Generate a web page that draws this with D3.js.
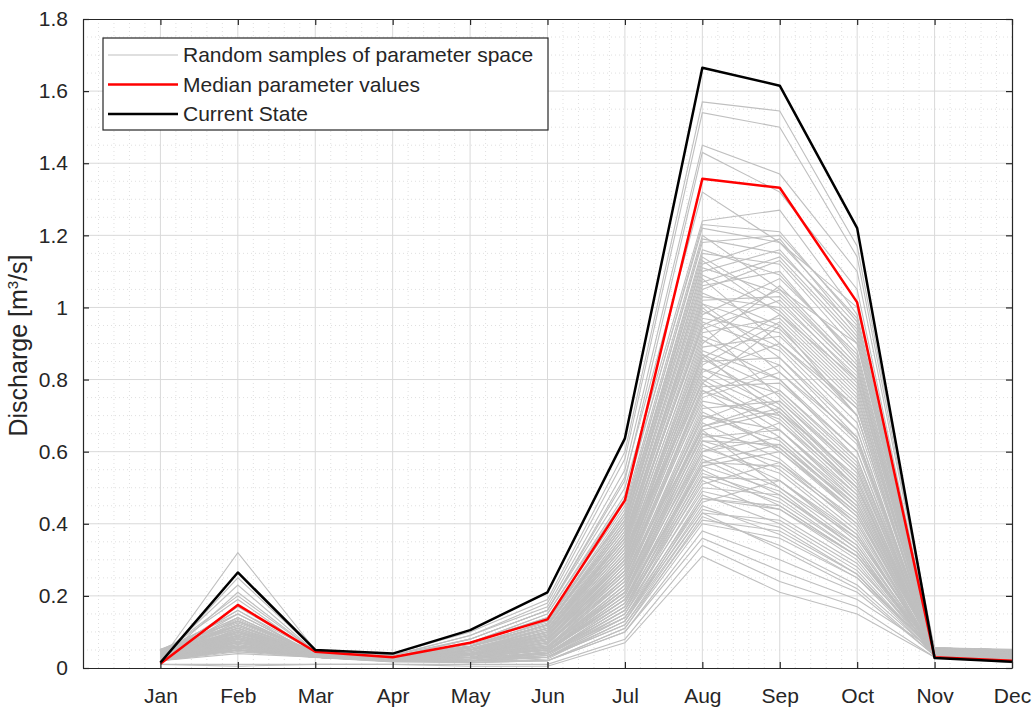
<!DOCTYPE html>
<html><head><meta charset="utf-8">
<script src="https://d3js.org/d3.v7.min.js"></script>
<style>
html,body{margin:0;padding:0;background:#fff;}
svg{display:block;font-family:"Liberation Sans",Arial,sans-serif;}
</style></head>
<body><svg id="c" width="1036" height="709"></svg>
<script>
const months = ["Jan","Feb","Mar","Apr","May","Jun","Jul","Aug","Sep","Oct","Nov","Dec"];
const yTicks = [0,0.2,0.4,0.6,0.8,1,1.2,1.4,1.6,1.8];
const medianValues = [0.012,0.175,0.045,0.03,0.07,0.135,0.465,1.357,1.332,1.014,0.03,0.02];
const currentState = [0.015,0.265,0.05,0.04,0.105,0.21,0.637,1.665,1.615,1.22,0.028,0.017];
const randomSamples = [
[0.02,0.32,0.05,0.04,0.10,0.19,0.60,1.57,1.545,1.17,0.05,0.04],
[0.02,0.25,0.05,0.035,0.09,0.18,0.58,1.54,1.50,1.14,0.045,0.035],
[0.03,0.23,0.045,0.035,0.09,0.17,0.55,1.45,1.37,1.10,0.05,0.04],
[0.02,0.21,0.045,0.03,0.08,0.16,0.52,1.43,1.32,1.05,0.04,0.03],
[0.04,0.19,0.04,0.03,0.08,0.16,0.50,1.24,1.27,0.98,0.05,0.04],
[0.03,0.17,0.045,0.03,0.07,0.15,0.48,1.22,1.18,0.95,0.04,0.03],
[0.05,0.15,0.04,0.03,0.07,0.14,0.45,1.20,1.05,0.90,0.05,0.05],
[0.02,0.14,0.04,0.025,0.06,0.13,0.44,1.18,1.20,0.97,0.04,0.03],
[0.04,0.16,0.035,0.03,0.07,0.14,0.42,1.15,1.12,0.88,0.05,0.04],
[0.03,0.12,0.04,0.025,0.06,0.12,0.40,1.13,0.98,0.80,0.045,0.035],
[0.05,0.13,0.045,0.03,0.06,0.12,0.41,1.10,1.16,0.92,0.05,0.05],
[0.02,0.11,0.035,0.02,0.05,0.11,0.38,1.08,0.90,0.72,0.04,0.03],
[0.04,0.14,0.04,0.03,0.06,0.12,0.39,1.06,1.10,0.85,0.05,0.04],
[0.03,0.10,0.03,0.02,0.05,0.10,0.36,1.04,0.95,0.70,0.04,0.03],
[0.05,0.12,0.04,0.025,0.05,0.11,0.37,1.02,1.03,0.82,0.055,0.05],
[0.02,0.09,0.035,0.02,0.05,0.10,0.35,1.00,0.82,0.62,0.04,0.02],
[0.04,0.11,0.04,0.03,0.06,0.11,0.36,0.98,1.08,0.87,0.05,0.04],
[0.03,0.10,0.03,0.02,0.04,0.09,0.33,0.96,0.88,0.66,0.04,0.03],
[0.05,0.13,0.045,0.03,0.05,0.10,0.34,0.95,0.75,0.55,0.05,0.05],
[0.02,0.08,0.03,0.02,0.04,0.09,0.32,0.93,0.97,0.76,0.035,0.025],
[0.04,0.10,0.04,0.025,0.05,0.09,0.31,0.91,0.80,0.58,0.05,0.04],
[0.03,0.09,0.035,0.02,0.04,0.08,0.30,0.89,0.92,0.72,0.04,0.03],
[0.05,0.11,0.04,0.03,0.05,0.09,0.30,0.87,0.70,0.50,0.055,0.05],
[0.02,0.08,0.03,0.02,0.04,0.08,0.29,0.85,0.86,0.66,0.035,0.025],
[0.04,0.09,0.04,0.025,0.04,0.08,0.28,0.83,0.76,0.56,0.05,0.04],
[0.03,0.10,0.035,0.02,0.04,0.07,0.27,0.82,0.90,0.70,0.04,0.03],
[0.05,0.08,0.04,0.03,0.05,0.08,0.27,0.80,0.68,0.48,0.05,0.05],
[0.02,0.07,0.03,0.02,0.03,0.07,0.26,0.78,0.79,0.60,0.035,0.02],
[0.04,0.09,0.04,0.025,0.04,0.07,0.25,0.77,0.64,0.45,0.05,0.04],
[0.03,0.07,0.035,0.02,0.03,0.06,0.25,0.75,0.82,0.64,0.04,0.03],
[0.05,0.08,0.04,0.03,0.04,0.07,0.24,0.73,0.60,0.42,0.055,0.05],
[0.02,0.06,0.03,0.02,0.03,0.06,0.23,0.72,0.74,0.55,0.035,0.025],
[0.04,0.08,0.04,0.025,0.04,0.06,0.22,0.70,0.66,0.47,0.05,0.04],
[0.03,0.07,0.035,0.02,0.03,0.05,0.22,0.68,0.58,0.40,0.04,0.03],
[0.05,0.09,0.04,0.03,0.04,0.06,0.21,0.67,0.72,0.52,0.05,0.05],
[0.02,0.06,0.03,0.02,0.03,0.05,0.20,0.65,0.55,0.38,0.035,0.02],
[0.04,0.07,0.04,0.025,0.03,0.05,0.20,0.63,0.62,0.44,0.05,0.04],
[0.03,0.06,0.035,0.02,0.03,0.05,0.19,0.62,0.52,0.35,0.04,0.03],
[0.05,0.08,0.04,0.03,0.04,0.05,0.18,0.60,0.64,0.46,0.055,0.05],
[0.02,0.05,0.03,0.02,0.02,0.04,0.18,0.58,0.48,0.33,0.035,0.025],
[0.04,0.07,0.04,0.025,0.03,0.04,0.17,0.57,0.56,0.40,0.05,0.04],
[0.03,0.06,0.035,0.02,0.02,0.04,0.16,0.55,0.45,0.31,0.04,0.03],
[0.05,0.07,0.04,0.03,0.03,0.04,0.16,0.53,0.52,0.37,0.05,0.05],
[0.02,0.05,0.03,0.02,0.02,0.03,0.15,0.52,0.42,0.29,0.035,0.02],
[0.04,0.06,0.04,0.025,0.03,0.04,0.15,0.50,0.48,0.34,0.05,0.04],
[0.03,0.05,0.035,0.02,0.02,0.03,0.14,0.48,0.40,0.27,0.04,0.03],
[0.05,0.07,0.04,0.03,0.03,0.03,0.13,0.47,0.44,0.31,0.055,0.05],
[0.02,0.05,0.03,0.02,0.02,0.03,0.13,0.45,0.37,0.25,0.035,0.025],
[0.04,0.06,0.04,0.025,0.02,0.03,0.12,0.43,0.41,0.28,0.05,0.04],
[0.03,0.05,0.035,0.02,0.02,0.02,0.11,0.42,0.34,0.23,0.04,0.03],
[0.05,0.06,0.04,0.03,0.02,0.02,0.11,0.40,0.36,0.25,0.05,0.05],
[0.02,0.04,0.03,0.02,0.015,0.02,0.10,0.38,0.30,0.21,0.035,0.02],
[0.04,0.05,0.04,0.025,0.015,0.02,0.10,0.36,0.27,0.19,0.05,0.04],
[0.01,0.01,0.01,0.01,0.01,0.01,0.08,0.34,0.24,0.17,0.03,0.02],
[0.01,0.005,0.01,0.01,0.005,0.005,0.07,0.31,0.21,0.15,0.03,0.015],
[0.03,0.15,0.04,0.03,0.06,0.13,0.43,1.12,1.19,0.93,0.045,0.04],
[0.04,0.12,0.04,0.025,0.05,0.10,0.35,0.94,1.02,0.80,0.05,0.045],
[0.03,0.09,0.035,0.02,0.04,0.08,0.28,0.86,0.73,0.52,0.04,0.03],
[0.05,0.10,0.045,0.03,0.05,0.09,0.33,0.79,0.95,0.74,0.055,0.05],
[0.02,0.07,0.03,0.02,0.03,0.06,0.24,0.69,0.77,0.58,0.035,0.025],
[0.04,0.08,0.04,0.025,0.04,0.07,0.26,0.66,0.50,0.36,0.05,0.04],
[0.03,0.06,0.035,0.02,0.03,0.05,0.21,0.60,0.68,0.50,0.04,0.03],
[0.05,0.07,0.04,0.03,0.03,0.05,0.19,0.56,0.60,0.43,0.05,0.05],
[0.02,0.05,0.03,0.02,0.02,0.04,0.17,0.51,0.57,0.41,0.035,0.02],
[0.04,0.06,0.04,0.025,0.03,0.04,0.14,0.46,0.52,0.36,0.05,0.04],
[0.03,0.16,0.045,0.03,0.07,0.15,0.47,1.23,1.21,0.96,0.045,0.035],
[0.04,0.20,0.045,0.035,0.08,0.16,0.53,1.32,1.18,1.00,0.05,0.04],
[0.02,0.13,0.04,0.025,0.06,0.12,0.40,1.09,0.99,0.78,0.04,0.03],
[0.05,0.11,0.04,0.03,0.05,0.10,0.37,1.01,0.86,0.64,0.055,0.05],
[0.03,0.09,0.035,0.02,0.04,0.08,0.31,0.90,1.06,0.84,0.04,0.03],
[0.035,0.085,0.038,0.022,0.035,0.065,0.27,0.74,0.70,0.50,0.045,0.035],
[0.045,0.095,0.042,0.028,0.045,0.085,0.32,0.88,0.80,0.60,0.05,0.045],
[0.025,0.075,0.032,0.018,0.03,0.055,0.23,0.64,0.66,0.48,0.038,0.028],
[0.038,0.105,0.04,0.026,0.05,0.095,0.34,0.97,0.93,0.70,0.048,0.04],
[0.028,0.065,0.033,0.02,0.025,0.045,0.19,0.59,0.50,0.34,0.04,0.03],
[0.048,0.115,0.044,0.03,0.055,0.105,0.38,1.05,1.13,0.90,0.052,0.048],
[0.022,0.055,0.03,0.018,0.02,0.035,0.16,0.49,0.44,0.30,0.036,0.024],
[0.042,0.125,0.043,0.028,0.06,0.115,0.40,1.11,1.04,0.83,0.05,0.042],
[0.032,0.075,0.036,0.022,0.035,0.06,0.25,0.71,0.61,0.42,0.042,0.032],
[0.052,0.095,0.045,0.03,0.045,0.08,0.30,0.84,0.96,0.75,0.056,0.05],
[0.026,0.06,0.032,0.02,0.025,0.04,0.18,0.54,0.47,0.32,0.038,0.026],
[0.036,0.135,0.04,0.027,0.06,0.12,0.42,1.16,1.09,0.86,0.046,0.036],
[0.046,0.085,0.042,0.028,0.04,0.075,0.29,0.81,0.71,0.50,0.05,0.046],
[0.03,0.07,0.034,0.021,0.03,0.055,0.22,0.66,0.71,0.53,0.04,0.03],
[0.04,0.105,0.04,0.026,0.05,0.095,0.35,0.99,0.89,0.68,0.048,0.04],
[0.024,0.05,0.03,0.018,0.018,0.03,0.14,0.44,0.39,0.26,0.036,0.024],
[0.05,0.115,0.045,0.03,0.055,0.1,0.37,1.03,1.00,0.79,0.054,0.05],
[0.034,0.08,0.037,0.023,0.035,0.065,0.26,0.76,0.84,0.63,0.044,0.034],
[0.044,0.09,0.041,0.027,0.04,0.07,0.28,0.79,0.66,0.46,0.05,0.044],
[0.028,0.06,0.033,0.02,0.025,0.045,0.20,0.61,0.54,0.37,0.04,0.028],
[0.038,0.12,0.04,0.026,0.055,0.11,0.39,1.07,1.14,0.91,0.046,0.038],
[0.048,0.075,0.044,0.029,0.035,0.06,0.24,0.70,0.63,0.44,0.052,0.048],
[0.022,0.055,0.03,0.018,0.02,0.04,0.17,0.56,0.49,0.33,0.036,0.022],
[0.042,0.1,0.042,0.027,0.045,0.09,0.33,0.92,0.84,0.63,0.05,0.042],
[0.032,0.065,0.035,0.021,0.03,0.05,0.21,0.63,0.57,0.39,0.042,0.032],
[0.052,0.13,0.046,0.031,0.06,0.12,0.41,1.14,1.01,0.81,0.056,0.052],
[0.026,0.05,0.031,0.019,0.02,0.035,0.15,0.47,0.45,0.31,0.038,0.026],
[0.036,0.095,0.038,0.024,0.045,0.085,0.31,0.86,0.98,0.77,0.044,0.036],
[0.046,0.07,0.043,0.028,0.03,0.055,0.23,0.67,0.74,0.54,0.05,0.046],
[0.03,0.085,0.034,0.021,0.04,0.075,0.29,0.83,0.72,0.51,0.04,0.03],
[0.04,0.055,0.039,0.025,0.025,0.04,0.17,0.53,0.46,0.32,0.048,0.04],
[0.05,0.11,0.045,0.03,0.05,0.1,0.36,1.01,0.94,0.73,0.054,0.05],
[0.024,0.065,0.031,0.019,0.03,0.05,0.21,0.65,0.61,0.43,0.036,0.024],
[0.034,0.045,0.036,0.022,0.02,0.03,0.12,0.41,0.38,0.26,0.044,0.034],
[0.044,0.14,0.042,0.028,0.065,0.125,0.43,1.19,1.15,0.94,0.05,0.044],
[0.028,0.08,0.033,0.02,0.035,0.07,0.27,0.77,0.69,0.49,0.04,0.028],
[0.038,0.06,0.038,0.024,0.025,0.045,0.19,0.57,0.62,0.45,0.046,0.038],
[0.048,0.1,0.044,0.029,0.05,0.09,0.34,0.95,1.05,0.83,0.052,0.048],
[0.02,0.045,0.029,0.017,0.015,0.025,0.13,0.43,0.33,0.22,0.034,0.02],
[0.042,0.09,0.041,0.026,0.04,0.08,0.30,0.87,0.77,0.57,0.05,0.042]
];
const legendLabels = ["Random samples of parameter space","Median parameter values","Current State"];

const svg = d3.select("#c");
const L = 83, R = 1012, T = 19, B = 668;
const x = d3.scaleLinear().domain([0,12]).range([L,R]);
const y = d3.scaleLinear().domain([0,1.8]).range([B,T]);
const FS = 21;

const g = svg.append("g");
// minor grid
const xMinor = d3.range(0,12.0001,0.2).filter(v => Math.abs(v-Math.round(v))>1e-6);
const yMinor = d3.range(0,1.8001,0.05).filter(v => Math.abs(v*5-Math.round(v*5))>1e-6);
g.selectAll(".xm").data(xMinor).enter().append("line")
  .attr("x1",d=>x(d)).attr("x2",d=>x(d)).attr("y1",T).attr("y2",B)
  .attr("stroke","#e0e0e0").attr("stroke-width",1).attr("stroke-dasharray","1,3");
g.selectAll(".ym").data(yMinor).enter().append("line")
  .attr("y1",d=>y(d)).attr("y2",d=>y(d)).attr("x1",L).attr("x2",R)
  .attr("stroke","#e0e0e0").attr("stroke-width",1).attr("stroke-dasharray","1,3");
// major grid
g.selectAll(".xg").data(d3.range(1,12)).enter().append("line")
  .attr("x1",d=>x(d)).attr("x2",d=>x(d)).attr("y1",T).attr("y2",B)
  .attr("stroke","#d9d9d9").attr("stroke-width",1);
g.selectAll(".yg").data(yTicks.slice(1,-1)).enter().append("line")
  .attr("y1",d=>y(d)).attr("y2",d=>y(d)).attr("x1",L).attr("x2",R)
  .attr("stroke","#d9d9d9").attr("stroke-width",1);

const line = d3.line().x((d,i)=>x(i+1)).y(d=>y(d));
g.selectAll(".s").data(randomSamples).enter().append("path")
  .attr("d",line).attr("fill","none").attr("stroke","#bfbfbf").attr("stroke-width",1.1);
g.append("path").attr("d",line(medianValues)).attr("fill","none").attr("stroke","#ff0000").attr("stroke-width",2.5).attr("stroke-linejoin","round");
g.append("path").attr("d",line(currentState)).attr("fill","none").attr("stroke","#000").attr("stroke-width",2.5).attr("stroke-linejoin","round");

// axes
const axCol = "#262626";
const fmt = d => d3.format("~g")(d);
const xAxisB = g.append("g").attr("transform",`translate(0,${B})`)
  .call(d3.axisBottom(x).tickValues(d3.range(1,13)).tickFormat(d=>months[d-1]).tickSizeInner(-6).tickSizeOuter(0).tickPadding(20));
const xAxisT = g.append("g").attr("transform",`translate(0,${T})`)
  .call(d3.axisTop(x).tickValues(d3.range(1,13)).tickFormat("").tickSizeInner(-6).tickSizeOuter(0));
const yAxisL = g.append("g").attr("transform",`translate(${L},0)`)
  .call(d3.axisLeft(y).tickValues(yTicks).tickFormat(fmt).tickSizeInner(-6).tickSizeOuter(0).tickPadding(15));
const yAxisR = g.append("g").attr("transform",`translate(${R},0)`)
  .call(d3.axisRight(y).tickValues(yTicks).tickFormat("").tickSizeInner(-6).tickSizeOuter(0));
[xAxisB,xAxisT,yAxisL,yAxisR].forEach(a=>{
  a.select(".domain").attr("stroke",axCol).attr("stroke-width",1.2);
  a.selectAll(".tick line").attr("stroke",axCol).attr("stroke-width",1.2);
  a.selectAll("text").attr("fill",axCol).attr("font-size",FS).attr("font-family","Liberation Sans, Arial, sans-serif");
});
xAxisB.selectAll("text").attr("dy","0.71em");

svg.append("text").attr("transform",`translate(27,${(T+B)/2+2}) rotate(-90)`)
  .attr("text-anchor","middle").attr("font-size",25).attr("fill",axCol)
  .html('Discharge [m<tspan dy="-9" font-size="15">3</tspan><tspan dy="9">/s]</tspan>');

// legend
const lg = svg.append("g");
lg.append("rect").attr("x",103).attr("y",38).attr("width",445).attr("height",92)
  .attr("fill","#fff").attr("stroke",axCol).attr("stroke-width",1.2);
const lstyles = [{c:"#bfbfbf",w:1},{c:"#ff0000",w:2.5},{c:"#000",w:2.5}];
legendLabels.forEach((t,i)=>{
  const yy = 55 + i*29.5;
  lg.append("line").attr("x1",108).attr("x2",178).attr("y1",yy).attr("y2",yy)
    .attr("stroke",lstyles[i].c).attr("stroke-width",lstyles[i].w);
  lg.append("text").attr("x",183).attr("y",yy).attr("dy","0.35em")
    .attr("font-size",FS).attr("fill",axCol).text(t);
});
</script></body></html>
